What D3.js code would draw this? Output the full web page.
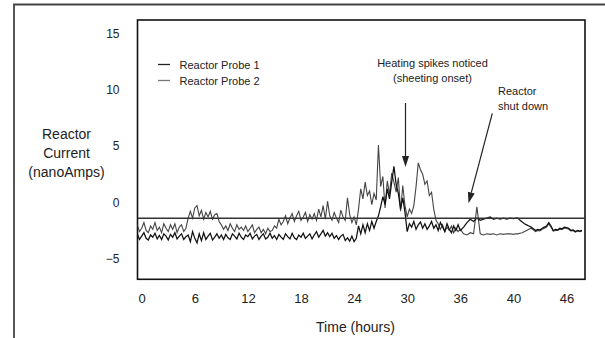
<!DOCTYPE html>
<html>
<head>
<meta charset="utf-8">
<script src="https://cdn.jsdelivr.net/npm/d3@7"></script>
<style>
  html, body { margin: 0; padding: 0; background: #fff; }
  svg { display: block; }
  text { font-family: "Liberation Sans", Arial, sans-serif; fill: #222; }
</style>
</head>
<body>
<svg id="chart" width="605" height="338"></svg>
<script>
// ---------- data ----------
const xTickLabels = [0, 6, 12, 18, 24, 30, 36, 40, 46];
const yTickValues = [-5, 0, 5, 10, 15];
const seriesNames = ["Reactor Probe 1", "Reactor Probe 2"];
const sampleStart = -0.5;   // hours
const sampleStep = 0.25;    // hours
const baselineValue = -1.42;

const probe1 = [
  -2.8,-3.3,-3.0,-2.7,-3.2,-3.35,-2.9,-3.1,
  -2.75,-3.25,-2.95,-3.3,-2.8,-3.0,-3.35,-2.85,
  -3.1,-2.7,-3.25,-3.0,-2.8,-3.3,-3.05,-2.9,
  -3.5,-2.6,-3.2,-3.6,-2.8,-3.4,-2.7,-3.3,
  -3.0,-2.75,-3.35,-3.1,-2.8,-3.2,-2.9,-3.3,
  -2.85,-3.15,-3.3,-2.8,-3.0,-3.25,-2.75,-3.1,
  -3.3,-2.9,-3.05,-2.75,-3.25,-3.0,-2.85,-3.3,
  -3.0,-2.8,-3.25,-3.1,-2.75,-3.2,-2.95,-3.3,
  -2.85,-3.1,-3.3,-2.8,-3.05,-3.25,-2.75,-3.15,
  -3.3,-2.9,-3.1,-2.75,-3.2,-3.0,-2.8,-3.25,
  -2.9,-2.6,-3.1,-2.8,-2.5,-3.0,-2.7,-3.05,
  -2.75,-3.2,-2.95,-3.3,-3.0,-2.85,-3.4,-3.15,
  -3.45,-3.0,-3.5,-3.2,
  -2.1,-2.8,-2.0,-2.7,-1.9,-2.5,-1.7,-2.3,
  -1.7,-1.2,-0.4,0.5,-0.2,1.2,0.3,1.8,
  3.2,1.6,0.8,-0.6,0.4,-0.9,
  -2.6,-1.9,-2.2,-1.7,-2.4,-2.0,-1.75,-2.3,
  -1.9,-2.4,-2.1,-1.7,-2.3,-2.0,-2.5,-1.8,
  -2.2,-2.6,-1.9,-2.4,-2.7,-2.1,-2.5,-2.0,
  -2.5,-2.2,-1.8,-1.5,-1.7,-1.4,-1.6,-1.5,
  -1.4,-1.3,-1.5,-1.4,-1.5,-1.4,-1.5,-1.4,
  -1.45,-1.4,-1.4,-1.6,-1.75,-1.9,-2.0,-2.1,
  -2.2,-2.35,-2.5,-2.4,-2.45,-2.3,-2.2,-2.1,
  -1.8,-2.1,-2.5,-2.4,-2.45,-2.3,-2.35,-2.2,
  -2.25,-2.3,-2.5,-2.45,-2.6,-2.5,-2.55,-2.5
];

const probe2 = [
  -2.0,-2.6,-2.3,-1.8,-2.5,-2.7,-2.1,-2.4,
  -1.8,-2.5,-2.2,-2.7,-1.9,-2.3,-2.6,-2.0,
  -2.4,-1.9,-2.7,-2.2,-2.0,-2.6,-2.3,-1.4,
  -0.8,-1.4,-0.5,-0.3,-1.2,-0.7,-1.5,-0.9,
  -1.3,-0.8,-1.5,-1.1,-1.0,-1.7,-2.0,-2.4,
  -2.1,-2.5,-1.9,-2.3,-2.6,-2.0,-2.4,-2.2,
  -2.5,-2.1,-2.6,-2.3,-2.0,-2.7,-2.4,-2.2,
  -2.7,-2.4,-2.8,-2.3,-2.6,-2.5,-2.1,-2.3,
  -1.5,-2.0,-1.7,-1.2,-1.9,-1.4,-1.0,-1.7,
  -1.2,-0.8,-1.6,-1.3,-0.9,-1.7,-1.1,-1.5,
  -1.0,-1.6,-0.6,-1.3,-0.3,-1.5,0.1,-1.2,
  -1.6,-0.9,-1.4,-1.8,-0.7,-1.3,-1.6,0.4,
  -1.1,-1.8,-1.3,-2.0,
  -0.6,1.2,0.3,1.8,0.6,1.0,-0.2,0.8,
  0.2,5.1,1.4,2.3,-0.5,1.9,0.7,2.6,
  1.8,0.9,2.2,-0.8,1.5,-0.3,
  -1.3,-0.6,-1.0,-0.3,1.4,3.5,2.9,2.5,
  1.6,1.9,0.6,0.9,-0.6,-1.6,-1.9,-2.4,
  -2.0,-2.6,-2.2,-2.5,-2.1,-2.7,-2.3,-2.6,
  -2.4,-2.8,-2.9,-2.7,-2.8,-0.4,-2.8,-2.9,
  -2.8,-2.85,-2.8,-2.9,-2.8,-2.85,-2.8,-2.8,
  -2.85,-2.8,-2.8,-2.75,-2.7,-2.6,-2.5,-2.4,
  -2.3,-2.45,-2.6,-2.5,-2.55,-2.4,-2.3,-2.2,
  -1.9,-2.2,-2.55,-2.5,-2.5,-2.4,-2.4,-2.3,
  -2.3,-2.4,-2.55,-2.5,-2.65,-2.55,-2.6,-2.55
];

// ---------- layout ----------
const svg = d3.select("#chart");
const plot = { left: 137.5, right: 585, top: 20, bottom: 279.3 };
const firstTickX = 141.7, tickGap = 53.1;

const x = d3.scaleLinear()
  .domain(xTickLabels)
  .range(xTickLabels.map((d, i) => firstTickX + i * tickGap));
const y = d3.scaleLinear().domain([-6.84, 16.2]).range([plot.bottom, plot.top]);

// outer frame (partial)
svg.append("path")
  .attr("d", "M14,338 L14,4.5 L605,4.5")
  .attr("fill", "none").attr("stroke", "#444").attr("stroke-width", 1.8);

// plot frame
svg.append("rect")
  .attr("x", plot.left).attr("y", plot.top)
  .attr("width", plot.right - plot.left).attr("height", plot.bottom - plot.top)
  .attr("fill", "none").attr("stroke", "#111").attr("stroke-width", 1.6);

// axes (labels only)
const yAxis = d3.axisLeft(y).tickValues(yTickValues).tickSize(0).tickPadding(18);
const gy = svg.append("g").attr("transform", `translate(${plot.left},0)`).call(yAxis);
gy.select(".domain").remove();
gy.selectAll("text").style("font-size", "12px").attr("fill", "#222")
  .style("font-family", '"Liberation Sans", Arial, sans-serif');

const xAxis = d3.axisBottom(x).tickValues(xTickLabels).tickSize(0).tickPadding(14)
  .tickFormat(d3.format("d"));
const gx = svg.append("g").attr("transform", `translate(0,${plot.bottom})`).call(xAxis);
gx.select(".domain").remove();
gx.selectAll("text").style("font-size", "13px").attr("fill", "#222")
  .style("font-family", '"Liberation Sans", Arial, sans-serif');

// axis titles
const yt = svg.append("text").attr("text-anchor", "middle").style("font-size", "14px");
["Reactor", "Current", "(nanoAmps)"].forEach((s, i) => {
  yt.append("tspan").attr("x", 66.5).attr("y", 139 + i * 19).text(s);
});
svg.append("text").attr("x", 355.5).attr("y", 332).attr("text-anchor", "middle")
  .style("font-size", "14px").text("Time (hours)");

// series
const line = d3.line()
  .x((d, i) => x(sampleStart + i * sampleStep))
  .y(d => y(d));

svg.append("clipPath").attr("id", "pclip").append("rect")
  .attr("x", plot.left).attr("y", plot.top)
  .attr("width", plot.right - plot.left).attr("height", plot.bottom - plot.top);

const gSeries = svg.append("g").attr("clip-path", "url(#pclip)");
gSeries.append("path").datum(probe2).attr("d", line)
  .attr("fill", "none").attr("stroke", "#444").attr("stroke-width", 1.1)
  .attr("stroke-linejoin", "miter");
gSeries.append("path").datum(probe1).attr("d", line)
  .attr("fill", "none").attr("stroke", "#111").attr("stroke-width", 1.25)
  .attr("stroke-linejoin", "miter");

// baseline
svg.append("line")
  .attr("x1", plot.left).attr("x2", plot.right)
  .attr("y1", y(baselineValue)).attr("y2", y(baselineValue))
  .attr("stroke", "#333").attr("stroke-width", 1.5);

// legend
const legendColors = ["#222", "#777"];
seriesNames.forEach((name, i) => {
  const ly = 64.5 + i * 16;
  svg.append("line").attr("x1", 158).attr("x2", 170).attr("y1", ly).attr("y2", ly)
    .attr("stroke", legendColors[i]).attr("stroke-width", 1.3);
  svg.append("text").attr("x", 179.5).attr("y", ly + 4).style("font-size", "11px").text(name);
});

// annotations
svg.append("text").attr("x", 432.5).attr("y", 66.5).attr("text-anchor", "middle")
  .style("font-size", "11px").text("Heating spikes noticed");
svg.append("text").attr("x", 432.5).attr("y", 81.5).attr("text-anchor", "middle")
  .style("font-size", "11px").text("(sheeting onset)");
svg.append("text").attr("x", 498).attr("y", 95).style("font-size", "11px").text("Reactor");
svg.append("text").attr("x", 498).attr("y", 110).style("font-size", "11px").text("shut down");

function arrow(x1, y1, x2, y2) {
  const ang = Math.atan2(y2 - y1, x2 - x1);
  const len = 11, half = 3.5;
  const bx = x2 - len * Math.cos(ang), by = y2 - len * Math.sin(ang);
  svg.append("line").attr("x1", x1).attr("y1", y1).attr("x2", bx).attr("y2", by)
    .attr("stroke", "#222").attr("stroke-width", 1.2);
  const px = -Math.sin(ang) * half, py = Math.cos(ang) * half;
  svg.append("path")
    .attr("d", `M${x2},${y2} L${bx + px},${by + py} L${bx - px},${by - py} Z`)
    .attr("fill", "#222");
}
arrow(405.5, 103, 405.5, 167);
arrow(492.3, 113.3, 468.5, 203.3);
</script>
</body>
</html>
